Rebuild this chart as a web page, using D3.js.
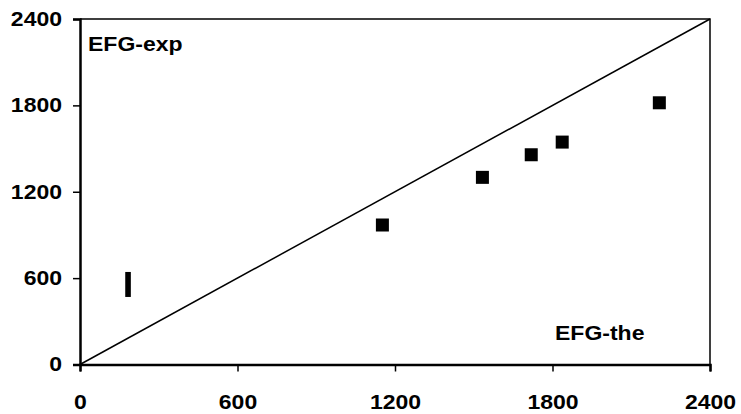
<!DOCTYPE html>
<html>
<head>
<meta charset="utf-8">
<script src="https://cdn.jsdelivr.net/npm/d3@7"></script>
<style>
  body { margin: 0; background: #fff; }
  svg text { font-family: "Liberation Sans", Arial, sans-serif; font-weight: bold; }
</style>
</head>
<body>
<div id="chart"></div>
<script>
// EFG theory vs experiment
const efgThe = [1152, 1533, 1719, 1837, 2207];
const efgExp = [969, 1300, 1457, 1545, 1818];
const xTicks = [0, 600, 1200, 1800, 2400];
const yTicks = [0, 600, 1200, 1800, 2400];
const diagonal = [0, 2400];
const barMark = [{x: 183, y: 556}];

const W = 741, H = 414;
const margin = {top: 19, right: 31, bottom: 49.5, left: 80};
const width = W - margin.left - margin.right;
const height = H - margin.top - margin.bottom;
const stretch = 1.15; // text in the original is a bit wide

const svg = d3.select("#chart").append("svg")
  .attr("width", W).attr("height", H);
const g = svg.append("g")
  .attr("transform", "translate(" + margin.left + "," + margin.top + ")");

const x = d3.scaleLinear().domain([0, 2400]).range([0, width]);
const y = d3.scaleLinear().domain([0, 2400]).range([height, 0]);

// frame (top + right)
g.append("path")
  .attr("d", "M0,0H" + width + "V" + height)
  .attr("fill", "none").attr("stroke", "#000").attr("stroke-width", 1.5);

// axes
const xAxis = g.append("g")
  .attr("transform", "translate(0," + height + ")")
  .call(d3.axisBottom(x).tickValues(xTicks).tickSize(7).tickPadding(23).tickFormat(d3.format("d")));
const yAxis = g.append("g")
  .call(d3.axisLeft(y).tickValues(yTicks).tickSize(7).tickPadding(11).tickFormat(d3.format("d")));
[xAxis, yAxis].forEach(a => {
  a.select(".domain").attr("stroke-width", 2.5);
  a.selectAll(".tick line").attr("stroke-width", 1.5);
  a.selectAll("text").attr("font-size", 20).attr("fill", "#000")
    .style("font-family", '"Liberation Sans", Arial, sans-serif').style("font-weight", "bold");
});
xAxis.selectAll("text").attr("transform", "scale(" + stretch + ",1)");
yAxis.selectAll("text").attr("x", 0)
  .attr("transform", "translate(-18,0) scale(" + stretch + ",1)");

// diagonal line
g.append("line")
  .attr("x1", x(diagonal[0])).attr("y1", y(diagonal[0]))
  .attr("x2", x(diagonal[1])).attr("y2", y(diagonal[1]))
  .attr("stroke", "#000").attr("stroke-width", 1.5);

// points
const pts = efgThe.map((d, i) => ({x: d, y: efgExp[i]}));
const s = 13;
g.selectAll("rect.pt")
  .data(pts)
  .enter()
  .append("rect")
  .attr("class", "pt")
  .attr("x", d => x(d.x) - s / 2)
  .attr("y", d => y(d.y) - s / 2)
  .attr("width", s).attr("height", s)
  .attr("fill", "#000");

// lone bar mark
g.selectAll("rect.bar")
  .data(barMark)
  .enter()
  .append("rect")
  .attr("class", "bar")
  .attr("x", d => x(d.x) - 2.8)
  .attr("y", d => y(d.y) - 12.5)
  .attr("width", 5.6).attr("height", 25)
  .attr("fill", "#000");

// labels
g.append("text").attr("transform", "translate(8,32) scale(" + stretch + ",1)")
  .attr("font-size", 20).text("EFG-exp");
g.append("text").attr("transform", "translate(475,320.5) scale(" + stretch + ",1)")
  .attr("font-size", 20).text("EFG-the");
</script>
</body>
</html>
